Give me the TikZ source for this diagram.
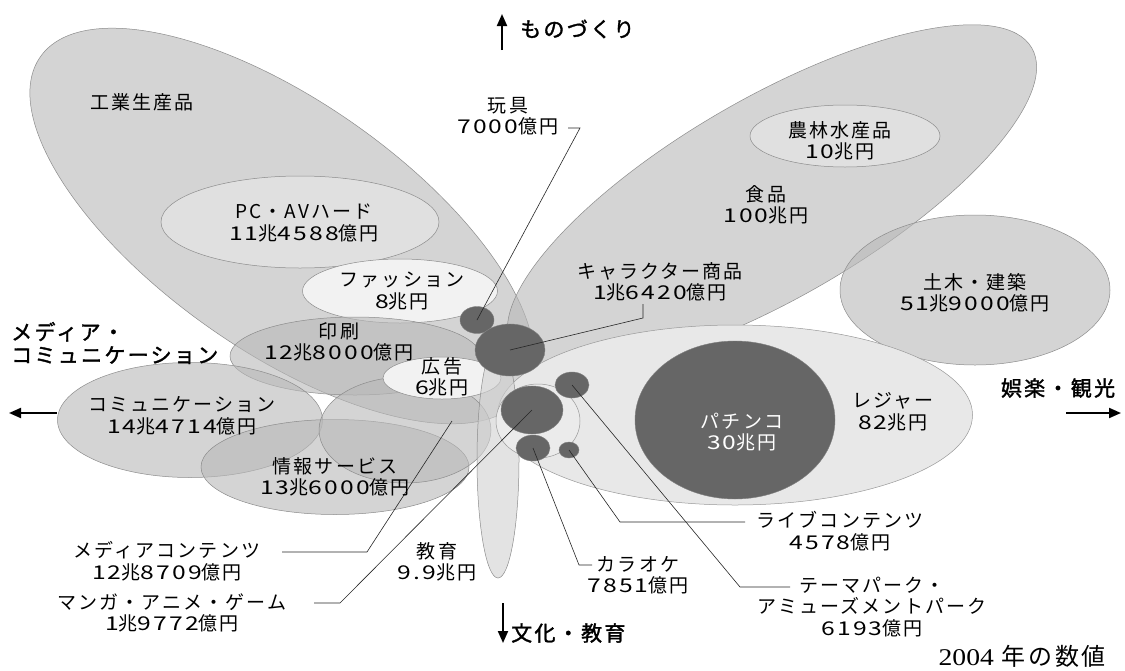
\documentclass[tikz,border=0pt]{standalone}
\usepackage{fontspec}
\setmainfont{Noto Sans CJK JP}[LetterSpace=11]
\newfontfamily\jpbold{Noto Sans CJK JP}[FakeBold=1.6,LetterSpace=11]
\newfontfamily\digf{Noto Sans CJK JP}[FakeStretch=1.3,LetterSpace=11]
\newfontfamily\yrserif{Liberation Serif}[FakeStretch=1.15]
\newcommand{\N}[1]{{\digf #1}}
\usetikzlibrary{shapes.geometric,arrows.meta}
\begin{document}
\begin{tikzpicture}[x=1pt,y=-1pt,
  wing/.style={ellipse,inner sep=0pt,draw=black!45,line width=0.5pt,fill=black!28,fill opacity=0.6},
  paleE/.style={ellipse,inner sep=0pt,draw=black!45,line width=0.5pt,fill=black!5},
  innerE/.style={ellipse,inner sep=0pt,draw=black!45,line width=0.5pt,fill=black!6,fill opacity=0.45},
  disc/.style={ellipse,inner sep=0pt,fill=black!60,draw=black!50,line width=0.4pt},
  lbl/.style={inner sep=0pt,align=center,font=\fontsize{19}{21.5}\selectfont},
  axlbl/.style={inner sep=0pt,font=\jpbold\fontsize{21}{23}\selectfont},
  lead/.style={line width=0.6pt,draw=black!85},
  axis/.style={line width=2pt,-{Triangle[length=12pt,width=10pt]}},
]
\useasboundingbox (0,0) rectangle (1125,670);
\fill[white] (0,0) rectangle (1125,670);

% wings
\node[wing,minimum width=590pt,minimum height=250pt,rotate=-35] (ind) at (282,226) {};
\node[wing,minimum width=600pt,minimum height=200pt,rotate=30] (food) at (772,198) {};
\node[wing,minimum width=270pt,minimum height=150pt] (civil) at (975,290) {};
\node[innerE,minimum width=190pt,minimum height=62pt] (agri) at (845,136) {};
\node[innerE,minimum width=278pt,minimum height=92pt] (pc) at (300,222) {};
\node[paleE,minimum width=195pt,minimum height=64pt] (fash) at (400,291) {};
\node[ellipse,inner sep=0pt,fill=black!9,draw=black!40,line width=0.5pt,minimum width=475pt,minimum height=180pt] (leis) at (735,415) {};
\node[wing,minimum width=250pt,minimum height=78pt] (print) at (355,356) {};
\node[wing,minimum width=265pt,minimum height=115pt] (comm) at (190,420) {};
\node[wing,minimum width=268pt,minimum height=95pt] (info) at (335,467) {};
\node[wing,minimum width=172pt,minimum height=106pt] (media) at (405,430) {};
\node[paleE,minimum width=118pt,minimum height=42pt] (ad) at (442,378) {};
\node[wing,fill=black!18,minimum width=42pt,minimum height=236pt] (edu) at (498,460) {};
\node[ellipse,inner sep=0pt,fill=black!8,draw=black!40,line width=0.5pt,minimum width=84pt,minimum height=74pt] (ring) at (538,421) {};

% discs
\node[disc,minimum width=200pt,minimum height=158pt] (pachi) at (735,420) {};
\node[disc,minimum width=34pt,minimum height=27pt] (toy) at (477,320) {};
\node[disc,minimum width=70pt,minimum height=52pt] (chara) at (510,350) {};
\node[disc,minimum width=34pt,minimum height=26pt] (theme) at (572,385) {};
\node[disc,minimum width=62pt,minimum height=48pt] (manga) at (532,410) {};
\node[disc,minimum width=34pt,minimum height=26pt] (kara) at (533,448) {};
\node[disc,minimum width=20pt,minimum height=16pt] (live) at (569,450) {};

% leader lines
\coordinate (toyK) at (580,128);  \coordinate (toyE) at (568,128);
\coordinate (charaK) at (643,318); \coordinate (charaE) at (643,304);
\coordinate (themeK) at (740,587); \coordinate (themeE) at (790,587);
\coordinate (liveK) at (620,522);  \coordinate (liveE) at (745,522);
\coordinate (karaK) at (579,565);  \coordinate (karaE) at (592,565);
\coordinate (mediaP) at (452,421); \coordinate (mediaK) at (367,552); \coordinate (mediaE) at (282,552);
\coordinate (mangaK) at (340,603); \coordinate (mangaE) at (314,603);
\draw[lead] (toy.center) -- (toyK) -- (toyE);
\draw[lead] (chara.center) -- (charaK) -- (charaE);
\draw[lead] (theme.center) -- (themeK) -- (themeE);
\draw[lead] (live.center) -- (liveK) -- (liveE);
\draw[lead] (kara.center) -- (karaK) -- (karaE);
\draw[lead] (mediaP) -- (mediaK) -- (mediaE);
\draw[lead] (manga.center) -- (mangaK) -- (mangaE);

% labels
\node[lbl] (indL) at (142,102) {工業生産品};
\node[lbl] (toyL) at (508,116) {玩具\\\N{7000}億円};
\node[lbl] (agriL) at (840,141) {農林水産品\\\N{10}兆円};
\node[lbl] (foodL) at (766,205) {食品\\\N{100}兆円};
\node[lbl] (pcL) at (304,223) {PC・AVハード\\\N{11}兆\N{4588}億円};
\node[lbl] (fashL) at (402,291) {ファッション\\\N{8}兆円};
\node[lbl] (charaL) at (660,282) {キャラクター商品\\\N{1}兆\N{6420}億円};
\node[lbl] (civilL) at (975,293) {土木・建築\\\N{51}兆\N{9000}億円};
\node[lbl] (printL) at (339,342) {印刷\\\N{12}兆\N{8000}億円};
\node[lbl] (adL) at (442,377) {広告\\\N{6}兆円};
\node[lbl] (commL) at (182,416) {コミュニケーション\\\N{14}兆\N{4714}億円};
\node[lbl] (infoL) at (335,477) {情報サービス\\\N{13}兆\N{6000}億円};
\node[lbl] (leisL) at (893,412) {レジャー\\\N{82}兆円};
\node[lbl,text=white] (pachiL) at (742,432) {パチンコ\\\N{30}兆円};
\node[lbl] (eduL) at (437,562) {教育\\\N{9.9}兆円};
\node[lbl] (liveL) at (840,531) {ライブコンテンツ\\\N{4578}億円};
\node[lbl] (karaL) at (638,575) {カラオケ\\\N{7851}億円};
\node[lbl] (themeL) at (872,607) {テーマパーク・\\アミューズメントパーク\\\N{6193}億円};
\node[lbl] (mediaL) at (167,561) {メディアコンテンツ\\\N{12}兆\N{8709}億円};
\node[lbl] (mangaL) at (172,613) {マンガ・アニメ・ゲーム\\\N{1}兆\N{9772}億円};

% axes
\coordinate (upS) at (502,50);  \coordinate (upE) at (502,14);
\coordinate (dnS) at (503,603); \coordinate (dnE) at (503,643);
\coordinate (lfS) at (57,413);  \coordinate (lfE) at (9,413);
\coordinate (rtS) at (1066,413); \coordinate (rtE) at (1121,413);
\draw[axis] (upS) -- (upE);
\draw[axis] (dnS) -- (dnE);
\draw[axis] (lfS) -- (lfE);
\draw[axis] (rtS) -- (rtE);
\node[axlbl,anchor=west] (upL) at (520,29) {ものづくり};
\node[axlbl,anchor=west] (dnL) at (511,633) {文化・教育};
\node[axlbl,anchor=west,align=left] (lfL) at (11,343) {メディア・\\コミュニケーション};
\node[axlbl] (rtL) at (1058,388) {娯楽・観光};

\node[inner sep=0pt,anchor=east,font=\fontsize{24}{26}\selectfont] (year) at (1106,656) {{\yrserif 2004} 年の数値};
\end{tikzpicture}
\end{document}
